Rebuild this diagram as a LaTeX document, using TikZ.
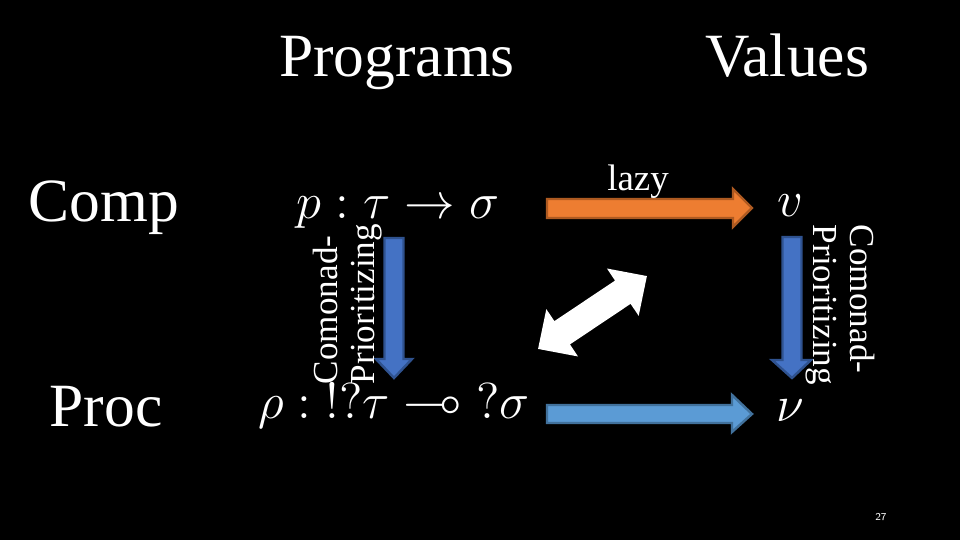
\documentclass[tikz,border=0pt]{standalone}
\usepackage{amsmath,amssymb}
\usepackage{fontspec}
\setmainfont{Liberation Serif}
\usetikzlibrary{positioning}
\definecolor{lazyorange}{RGB}{237,125,49}
\definecolor{lazyedge}{RGB}{174,90,33}
\definecolor{cmblue}{RGB}{68,114,196}
\definecolor{cmedge}{RGB}{47,82,143}
\definecolor{procblue}{RGB}{91,155,213}
\definecolor{procedge}{RGB}{65,113,156}

\begin{document}
\begin{tikzpicture}[
  every node/.style={text=white, inner sep=0pt},
  heading/.style={font=\fontsize{17.5}{20}\selectfont, anchor=base},
  term/.style={font=\fontsize{15}{18}\selectfont, anchor=base},
  sidenote/.style={font=\fontsize{10}{10.5}\selectfont, align=left},
  blockarrow/.style={line width=0.7pt, line join=miter}
]
  \fill[black] (0,0) rectangle (9.6,5.4);
  \useasboundingbox (0,0) rectangle (9.6,5.4);

  % headings
  \node[heading] (programs) at (3.97,4.63) {Programs};
  \node[heading] (values) at (7.87,4.63) {Values};
  \node[heading] (comp) at (1.04,3.18) {Comp};
  \node[heading] (proc) at (1.06,1.13) {Proc};

  % terms
  \node[term] (prog) at (3.98,3.21) {$p : \tau \to \sigma$};
  \node[term] (procterm) at (3.94,1.21) {$\rho : {!}{?}\tau \multimap {?}\sigma$};
  \node[term] (val) at (7.90,3.23) {$v$};
  \node[term] (valnu) at (7.90,1.18) {$\nu$};

  % arrows
  \draw[blockarrow, fill=lazyorange, draw=lazyedge] (5.47,3.22) -- (7.33,3.22) -- (7.33,3.13)
    -- (7.52,3.32) -- (7.33,3.51) -- (7.33,3.41) -- (5.47,3.41) -- cycle;
  \node[font=\fontsize{10.5}{12}\selectfont, anchor=base] (lazy) at (6.38,3.49) {lazy};

  \draw[blockarrow, fill=procblue, draw=procedge] (5.47,1.17) -- (7.32,1.17) -- (7.32,1.08)
    -- (7.52,1.26) -- (7.32,1.45) -- (7.32,1.35) -- (5.47,1.35) -- cycle;

  \draw[blockarrow, fill=cmblue, draw=cmedge] (3.845,3.02) -- (3.845,1.81) -- (3.76,1.81)
    -- (3.94,1.62) -- (4.12,1.81) -- (4.035,1.81) -- (4.035,3.02) -- cycle;
  \draw[blockarrow, fill=cmblue, draw=cmedge] (7.825,3.03) -- (7.825,1.80) -- (7.72,1.80)
    -- (7.92,1.62) -- (8.11,1.80) -- (8.015,1.80) -- (8.015,3.03) -- cycle;

  \node[sidenote, rotate=90] (lcomonad) at (3.48,2.36) {Comonad-\\Prioritizing};
  \node[sidenote, rotate=-90] (rcomonad) at (8.40,2.35) {Comonad-\\Prioritizing};

  % two-way arrow
  \fill[white, shift={(5.925,2.275)}, rotate=33.8] (-0.655,0) -- (-0.365,0.285) -- (-0.365,0.14)
    -- (0.365,0.14) -- (0.365,0.285) -- (0.655,0) -- (0.365,-0.285) -- (0.365,-0.14)
    -- (-0.365,-0.14) -- (-0.365,-0.285) -- cycle;

  \node[font=\sffamily\fontsize{3}{4}\selectfont] (pagenum) at (8.81,0.23) {27};
\end{tikzpicture}
\end{document}
